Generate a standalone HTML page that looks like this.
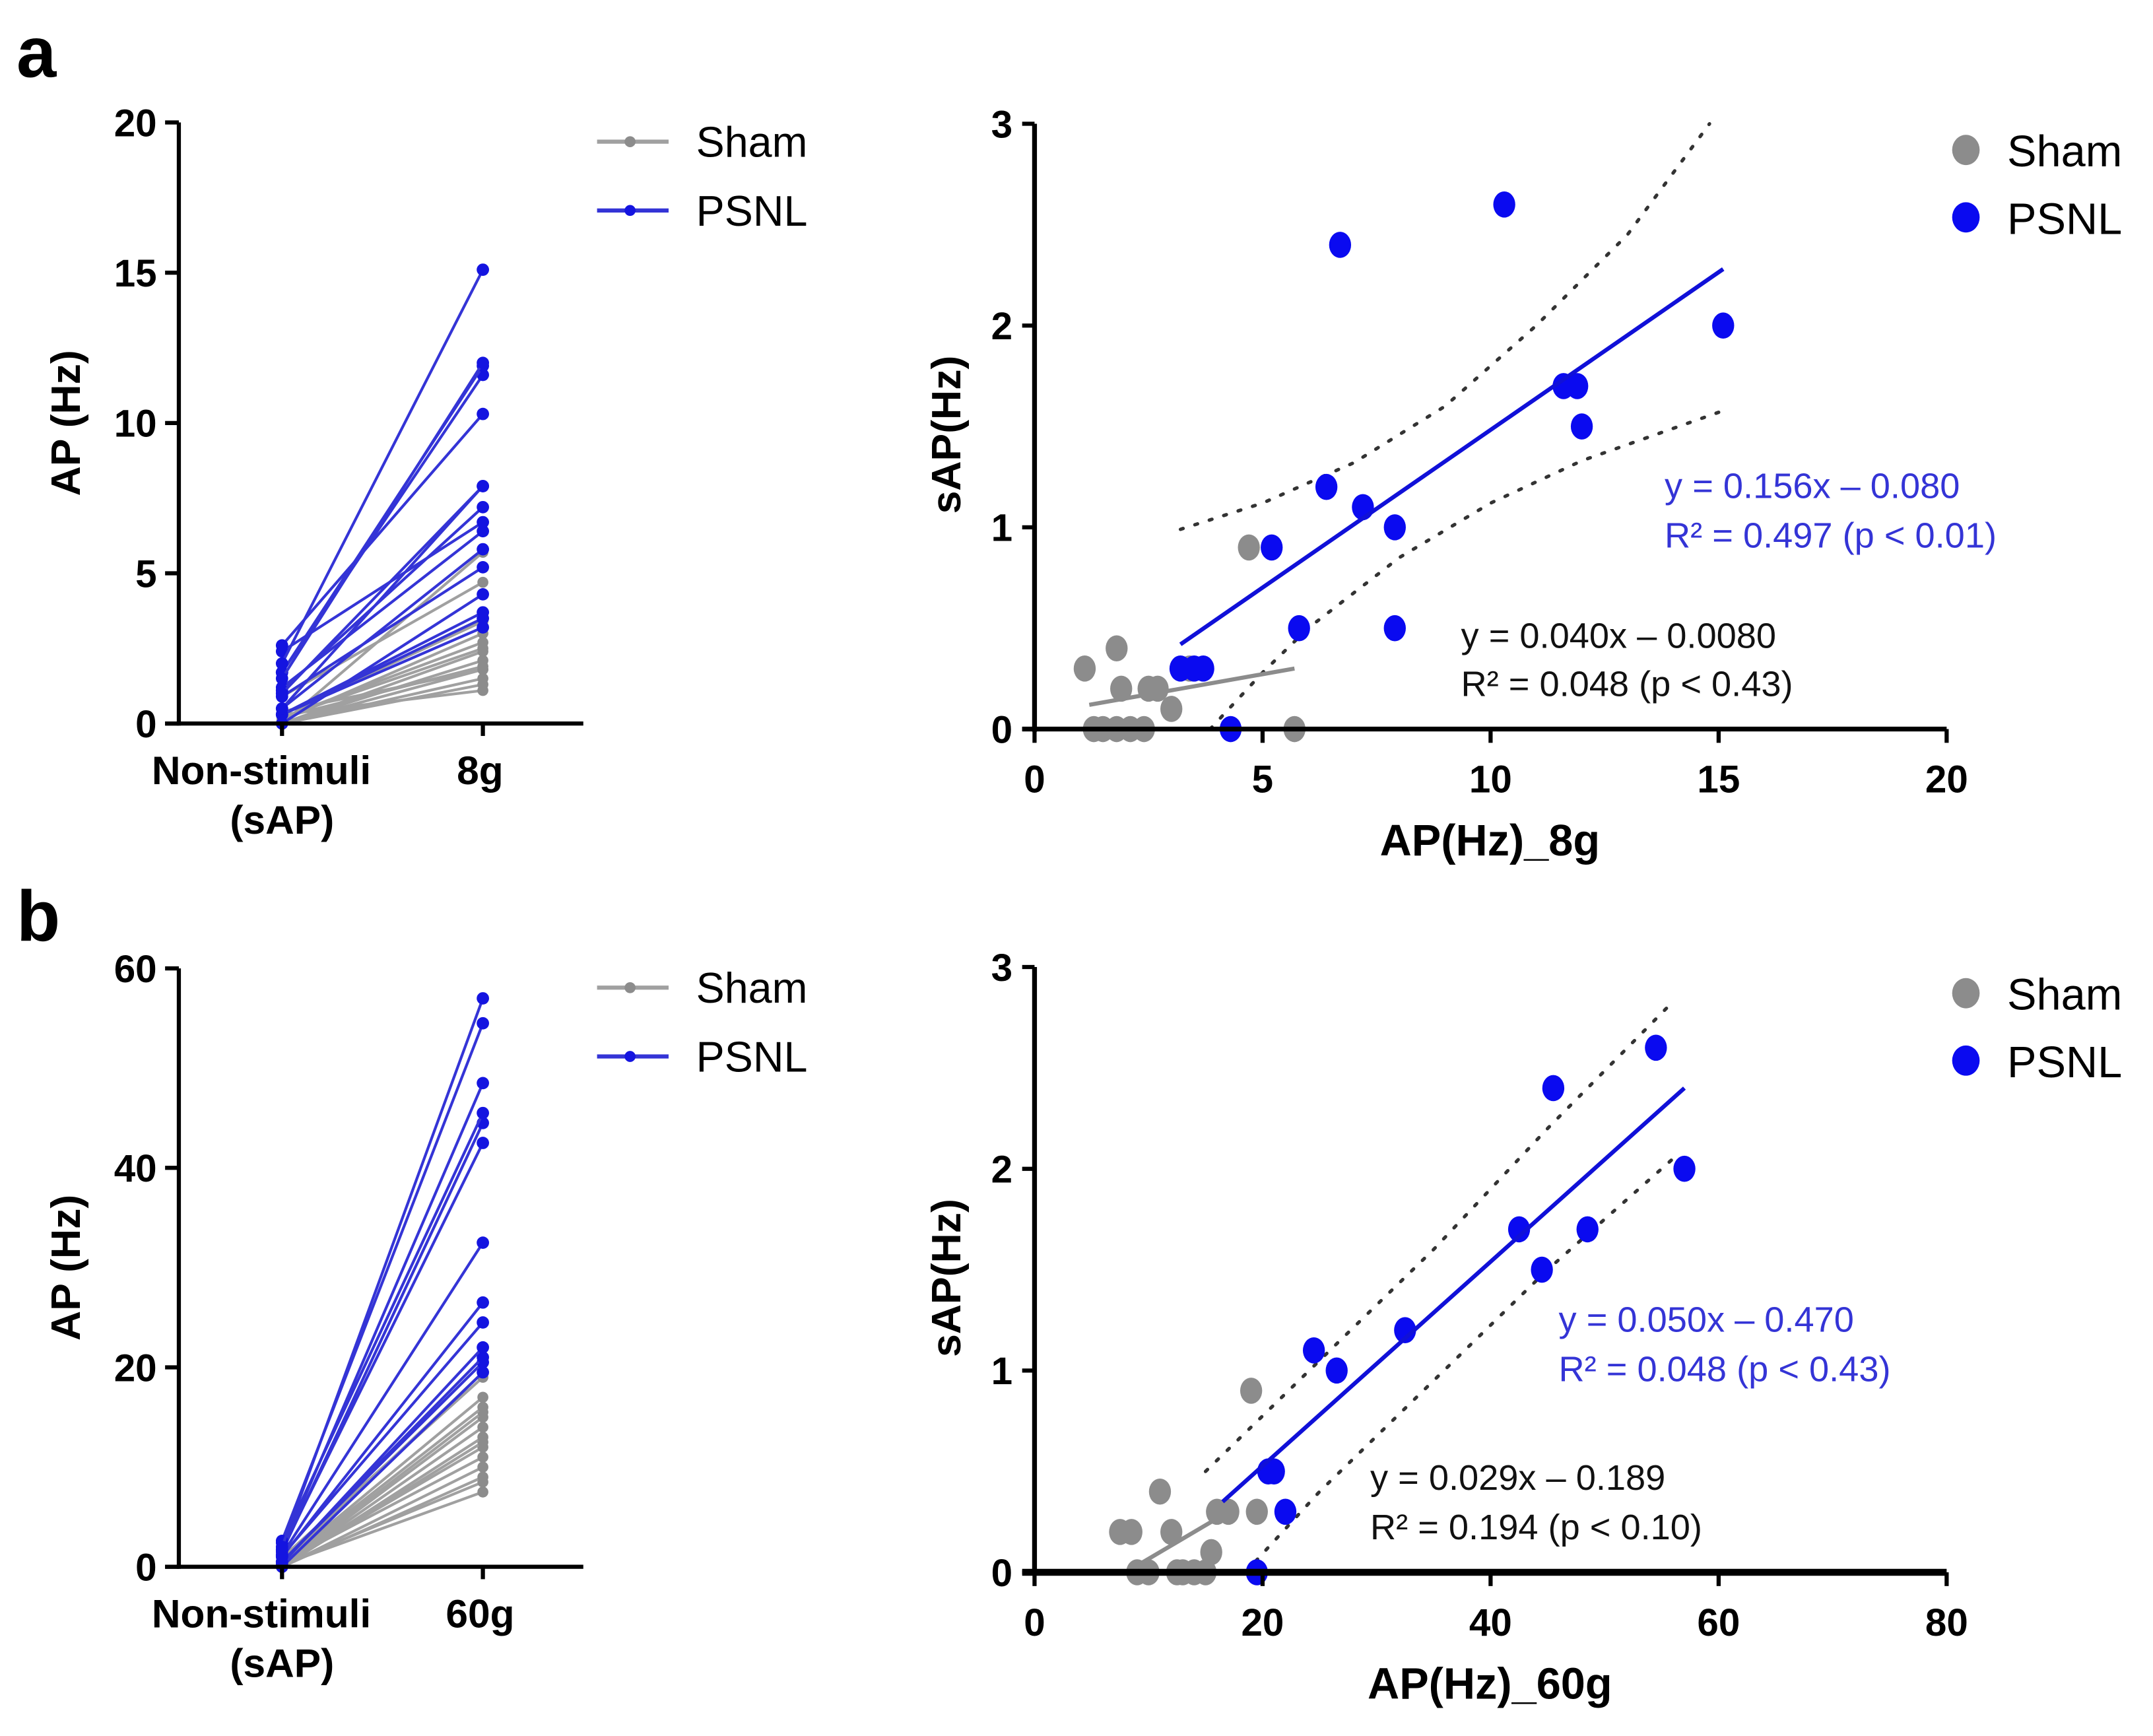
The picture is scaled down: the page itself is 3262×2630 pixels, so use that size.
<!DOCTYPE html>
<html><head><meta charset="utf-8">
<style>
html,body{margin:0;padding:0;background:#fff;}
svg{display:block;font-family:"Liberation Sans",Arial,sans-serif;}
</style></head>
<body>
<svg id="fig" width="3262" height="2630" viewBox="0 0 1565 1262" preserveAspectRatio="none" xmlns="http://www.w3.org/2000/svg">
<rect width="1565" height="1262" fill="#fff"/>
<text x="12" y="56" font-size="52" font-weight="bold">a</text>
<text x="12" y="684" font-size="52" font-weight="bold">b</text>
</svg>
<script>
// ---- data ----
const shamSAP_a = [0.3,0,0,0.4,0.2,0,0,0,0.2,0.2,0.1,0.9,0,0.3];
const shamAP8g  = [1.1,1.3,1.5,1.8,1.9,1.8,2.1,2.4,2.5,2.7,3.0,4.7,5.7,3.4];
const psnlSAP_a = [0.3,0.3,0.3,0,0.9,0.5,1.2,2.4,1.1,1.0,0.5,2.6,1.7,1.7,1.5,2.0];
const psnlAP8g  = [3.2,3.5,3.7,4.3,5.2,5.8,6.4,6.7,7.2,7.9,7.9,10.3,11.6,11.9,12.0,15.1];
const shamSAP_b = [0.2,0.2,0,0,0.4,0.2,0,0,0,0,0.1,0.3,0.3,0.9,0.3];
const shamAP60g = [7.5,8.5,9,10,11,12,12.5,13,14,15,15.5,16,17,19,19.5];
const psnlSAP_b = [0,0.5,0.5,0.3,1.1,1.0,1.2,1.7,1.5,2.4,1.7,2.6,2.0];
const psnlAP60g = [19.5,20.5,21,22,24.5,26.5,32.5,42.5,44.5,45.5,48.5,54.5,57];
// fit lines and confidence bands
const fitA_psnl_x = [3.2,15.1], fitA_psnl_y = [0.42,2.28];
const fitA_sham_x = [1.2,5.7], fitA_sham_y = [0.12,0.30];
const bandA_up_x = [3.2,5,7,9,11,13,14.8], bandA_up_y = [0.99,1.12,1.32,1.6,2.0,2.45,3.0];
const bandA_lo_x = [3.85,5,6,8,10,12,15], bandA_lo_y = [0.0,0.28,0.5,0.85,1.12,1.33,1.57];
const fitB_psnl_x = [16.5,57], fitB_psnl_y = [0.35,2.4];
const fitB_sham_x = [8,17], fitB_sham_y = [0.0,0.3];
const bandB_up_x = [15,25,35,45,55.5], bandB_up_y = [0.5,1.05,1.6,2.2,2.8];
const bandB_lo_x = [18.5,25,35,45,56], bandB_lo_y = [0.0,0.4,0.95,1.5,2.05];
const ticksA_left = [0,5,10,15,20], ticksB_left=[0,20,40,60];
const ticksA_x = [0,5,10,15,20], ticksB_x=[0,20,40,60,80], ticksY=[0,1,2,3];

const svg = document.getElementById('fig');
const NS='http://www.w3.org/2000/svg';
function mk(tag, attrs, parent){const e=document.createElementNS(NS,tag);for(const k in attrs)e.setAttribute(k,attrs[k]);(parent||svg).appendChild(e);return e;}
function txt(x,y,s,attrs,parent){const e=mk('text',Object.assign({x:x,y:y},attrs||{}),parent);e.textContent=s;return e;}

const BLUE='#0a0af0', LBLUE='#3434d6', GRAY='#8c8c8c', LGRAY='#a0a0a0';

function pairedPanel(y0px,y1px,ymax,ticks,catLabel,shamS,shamE,psnlS,psnlE,name){
  const g=mk('g',{});
  
  
  const ax=130, xa=205, xb=351, right=424;
  const Y=v=>y0px-(v/ymax)*(y0px-y1px);
  for(let i=0;i<shamS.length;i++){
    const l=mk('line',{x1:xa,y1:Y(shamS[i]),x2:xb,y2:Y(shamE[i]),stroke:LGRAY,'stroke-width':2},g);
    
    
    mk('circle',{cx:xa,cy:Y(shamS[i]),r:4,fill:GRAY},g);
    mk('circle',{cx:xb,cy:Y(shamE[i]),r:4,fill:GRAY},g);
  }
  for(let i=0;i<psnlS.length;i++){
    const l=mk('line',{x1:xa,y1:Y(psnlS[i]),x2:xb,y2:Y(psnlE[i]),stroke:LBLUE,'stroke-width':2},g);
    
    
    mk('circle',{cx:xa,cy:Y(psnlS[i]),r:4.5,fill:'#1414e0'},g);
    mk('circle',{cx:xb,cy:Y(psnlE[i]),r:4.5,fill:'#1414e0'},g);
  }
  mk('line',{x1:ax,y1:y1px,x2:ax,y2:y0px+1.5,stroke:'#000','stroke-width':3},g);
  mk('line',{x1:ax-10,y1:y0px,x2:right,y2:y0px,stroke:'#000','stroke-width':3},g);
  ticks.forEach(t=>{
    mk('line',{x1:ax-10,y1:Y(t),x2:ax,y2:Y(t),stroke:'#000','stroke-width':3},g);
    const tl=txt(ax-16,Y(t)+10,String(t),{'font-size':28,'font-weight':'bold','text-anchor':'end'},g);
    
    
  });
  [xa,xb].forEach(x=>mk('line',{x1:x,y1:y0px,x2:x,y2:y0px+9,stroke:'#000','stroke-width':3},g));
  const c1=txt(xa-15,y0px+44,'Non-stimuli',{'font-size':29,'font-weight':'bold','text-anchor':'middle'},g);
  
  
  txt(xa,y0px+80,'(sAP)',{'font-size':29,'font-weight':'bold','text-anchor':'middle'},g);
  const c2=txt(xb-2,y0px+44,catLabel,{'font-size':29,'font-weight':'bold','text-anchor':'middle'},g);
  
  
  const yt=txt(0,0,'AP (Hz)',{'font-size':30,'font-weight':'bold','text-anchor':'middle',transform:`translate(58,${(y0px+y1px)/2}) rotate(-90)`},g);
  
  
  const ly1=y1px+14, ly2=y1px+64;
  const lg=mk('g',{},g);
  
  
  mk('line',{x1:434,y1:ly1,x2:486,y2:ly1,stroke:LGRAY,'stroke-width':3},lg);
  mk('circle',{cx:458,cy:ly1,r:4,fill:GRAY},lg);
  txt(506,ly1+11,'Sham',{'font-size':31},lg);
  mk('line',{x1:434,y1:ly2,x2:486,y2:ly2,stroke:LBLUE,'stroke-width':3},lg);
  mk('circle',{cx:458,cy:ly2,r:4,fill:'#1414e0'},lg);
  txt(506,ly2+11,'PSNL',{'font-size':31},lg);
}

function scatterPanel(y0px,y3px,xmax,xticks,xtitle,sx,sy,px,py,fits,eqs,name,xAxisW){
  const g=mk('g',{});
  
  
  const ax=752, xr=1415;
  const X=v=>ax+(v/xmax)*(xr-ax);
  const Y=v=>y0px-(v/3)*(y0px-y3px);
  fits.bands.forEach(b=>{
    const pts=b[0].map((x,i)=>X(x)+','+Y(b[1][i])).join(' ');
    const p=mk('polyline',{points:pts,fill:'none',stroke:'#333','stroke-width':2.5,'stroke-dasharray':'2 9','stroke-linecap':'round'},g);
    
    
  });
  for(let i=0;i<sx.length;i++){
    const c=mk('ellipse',{cx:X(sx[i]),cy:Y(sy[i]),rx:8,ry:9.5,fill:GRAY},g);
    
    
  }
  for(let i=0;i<px.length;i++){
    const c=mk('ellipse',{cx:X(px[i]),cy:Y(py[i]),rx:8,ry:9.5,fill:BLUE},g);
    
    
  }
  const f1=mk('line',{x1:X(fits.px[0]),y1:Y(fits.py[0]),x2:X(fits.px[1]),y2:Y(fits.py[1]),stroke:'#1010d8','stroke-width':3},g);
  
  
  const f2=mk('line',{x1:X(fits.sx[0]),y1:Y(fits.sy[0]),x2:X(fits.sx[1]),y2:Y(fits.sy[1]),stroke:GRAY,'stroke-width':3},g);
  
  
  mk('line',{x1:ax,y1:y3px,x2:ax,y2:y0px+2,stroke:'#000','stroke-width':3.5},g);
  mk('line',{x1:ax-9,y1:y0px,x2:xr,y2:y0px,stroke:'#000','stroke-width':xAxisW},g);
  ticksY.forEach(t=>{
    mk('line',{x1:ax-9,y1:Y(t),x2:ax,y2:Y(t),stroke:'#000','stroke-width':3},g);
    const tl=txt(ax-16,Y(t)+10,String(t),{'font-size':28,'font-weight':'bold','text-anchor':'end'},g);
    
    
  });
  xticks.forEach(t=>{
    mk('line',{x1:X(t),y1:y0px,x2:X(t),y2:y0px+10,stroke:'#000','stroke-width':3},g);
    const tl=txt(X(t),y0px+46,String(t),{'font-size':28,'font-weight':'bold','text-anchor':'middle'},g);
    
    
  });
  const xt=txt(1083,y0px+92,xtitle,{'font-size':32,'font-weight':'bold','text-anchor':'middle'},g);
  
  
  const yt=txt(0,0,'sAP(Hz)',{'font-size':30,'font-weight':'bold','text-anchor':'middle',transform:`translate(698,${(y0px+y3px)/2+6}) rotate(-90)`},g);
  
  
  const lg=mk('g',{},g);
  
  
  mk('ellipse',{cx:1429,cy:y3px+19,rx:10,ry:11,fill:GRAY},lg);
  txt(1459,y3px+31,'Sham',{'font-size':32},lg);
  mk('ellipse',{cx:1429,cy:y3px+68,rx:10,ry:11,fill:BLUE},lg);
  txt(1459,y3px+80,'PSNL',{'font-size':32},lg);
  eqs.forEach(e=>{
    const t=txt(e.x,e.y,e.t,{'font-size':26,fill:e.c},g);
    
    
  });
}

pairedPanel(526,89,20,ticksA_left,'8g',shamSAP_a,shamAP8g,psnlSAP_a,psnlAP8g,'paired-plot-a');
pairedPanel(1139,704,60,ticksB_left,'60g',shamSAP_b,shamAP60g,psnlSAP_b,psnlAP60g,'paired-plot-b');

scatterPanel(530,90,20,ticksA_x,'AP(Hz)_8g',shamAP8g,shamSAP_a,psnlAP8g,psnlSAP_a,
 {px:fitA_psnl_x,py:fitA_psnl_y,sx:fitA_sham_x,sy:fitA_sham_y,bands:[[bandA_up_x,bandA_up_y],[bandA_lo_x,bandA_lo_y]]},
 [{x:1210,y:362,t:'y = 0.156x – 0.080',c:LBLUE,n:'psnl-equation'},
  {x:1210,y:398,t:'R² = 0.497 (p < 0.01)',c:LBLUE,n:'psnl-r2'},
  {x:1062,y:471,t:'y = 0.040x – 0.0080',c:'#111',n:'sham-equation'},
  {x:1062,y:506,t:'R² = 0.048 (p < 0.43)',c:'#111',n:'sham-r2'}],'scatter-plot-a',3.5);

scatterPanel(1143,703,80,ticksB_x,'AP(Hz)_60g',shamAP60g,shamSAP_b,psnlAP60g,psnlSAP_b,
 {px:fitB_psnl_x,py:fitB_psnl_y,sx:fitB_sham_x,sy:fitB_sham_y,bands:[[bandB_up_x,bandB_up_y],[bandB_lo_x,bandB_lo_y]]},
 [{x:1133,y:968,t:'y = 0.050x – 0.470',c:LBLUE,n:'psnl-equation'},
  {x:1133,y:1004,t:'R² = 0.048 (p < 0.43)',c:LBLUE,n:'psnl-r2'},
  {x:996,y:1083,t:'y = 0.029x – 0.189',c:'#111',n:'sham-equation'},
  {x:996,y:1119,t:'R² = 0.194 (p < 0.10)',c:'#111',n:'sham-r2'}],'scatter-plot-b',5);
</script>
</body></html>
